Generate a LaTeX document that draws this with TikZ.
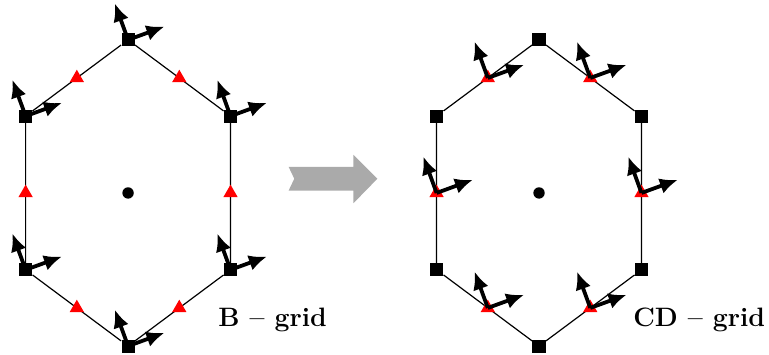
\documentclass[tikz,border=0pt]{standalone}
\usetikzlibrary{shapes.geometric,arrows.meta}
\definecolor{gridred}{HTML}{FF0000}
\definecolor{shiftgray}{HTML}{AAAAAA}
\tikzset{
  hpt/.style={rectangle, fill=black, minimum size=0.23cm, inner sep=0},
  vpt/.style={regular polygon, regular polygon sides=3, fill=gridred,
              minimum size=0.29cm, inner sep=0},
  cpt/.style={circle, fill=black, minimum size=0.2cm, inner sep=0},
  hexline/.style={line width=0.6pt},
  vec/.style={-{Latex[length=9pt,width=8pt]}, line width=1.9pt},
  glabel/.style={anchor=base west, inner sep=0, font=\fontsize{13.3}{15}\selectfont\bfseries},
}

\begin{document}
\begin{tikzpicture}
  \useasboundingbox (-2.25,-2.83) rectangle (11.26,3.39);
  % --- B-grid (left) ---
  \node[cpt] (bc)  at (0,0) {};
  \node[hpt] (bt)  at (0,2.69) {};
  \node[hpt] (bul) at (-1.80,1.35) {};
  \node[hpt] (bur) at (1.80,1.35) {};
  \node[hpt] (bll) at (-1.80,-1.35) {};
  \node[hpt] (blr) at (1.80,-1.35) {};
  \node[hpt] (bb)  at (0,-2.69) {};
  \draw[hexline] (bt) -- (bur) -- (blr) -- (bb) -- (bll) -- (bul) -- (bt);
  \node[vpt] (bm1) at (-0.90,2.02) {};
  \node[vpt] (bm2) at (0.90,2.02) {};
  \node[vpt] (bm3) at (-1.80,0) {};
  \node[vpt] (bm4) at (1.80,0) {};
  \node[vpt] (bm5) at (-0.90,-2.02) {};
  \node[vpt] (bm6) at (0.90,-2.02) {};
  \foreach \n in {bt,bul,bur,bll,blr,bb}{
    \draw[vec] (\n.center) -- ++(110:0.68);
    \draw[vec] (\n.center) -- ++(20:0.68);
  }
  \node[glabel] (blab) at (1.58,-2.35) {B -- grid};

  % --- shift arrow ---
  \fill[shiftgray] (2.82,0.46) -- (3.96,0.46) -- (3.96,0.67) -- (4.38,0.25)
    -- (3.96,-0.18) -- (3.96,0.04) -- (2.82,0.04) -- (2.92,0.25) -- cycle;

  % --- CD-grid (right) ---
  \node[cpt] (cc)  at (7.22,0) {};
  \node[hpt] (ct)  at (7.22,2.69) {};
  \node[hpt] (cul) at (5.42,1.35) {};
  \node[hpt] (cur) at (9.02,1.35) {};
  \node[hpt] (cll) at (5.42,-1.35) {};
  \node[hpt] (clr) at (9.02,-1.35) {};
  \node[hpt] (cb)  at (7.22,-2.69) {};
  \draw[hexline] (ct) -- (cur) -- (clr) -- (cb) -- (cll) -- (cul) -- (ct);
  \node[vpt] (cm1) at (6.32,2.02) {};
  \node[vpt] (cm2) at (8.12,2.02) {};
  \node[vpt] (cm3) at (5.42,0) {};
  \node[vpt] (cm4) at (9.02,0) {};
  \node[vpt] (cm5) at (6.32,-2.02) {};
  \node[vpt] (cm6) at (8.12,-2.02) {};
  \foreach \n in {cm1,cm2,cm3,cm4,cm5,cm6}{
    \draw[vec] (\n.center) -- ++(110:0.68);
    \draw[vec] (\n.center) -- ++(20:0.68);
  }
  \node[glabel] (clab) at (8.87,-2.35) {CD -- grid};
\end{tikzpicture}
\end{document}
